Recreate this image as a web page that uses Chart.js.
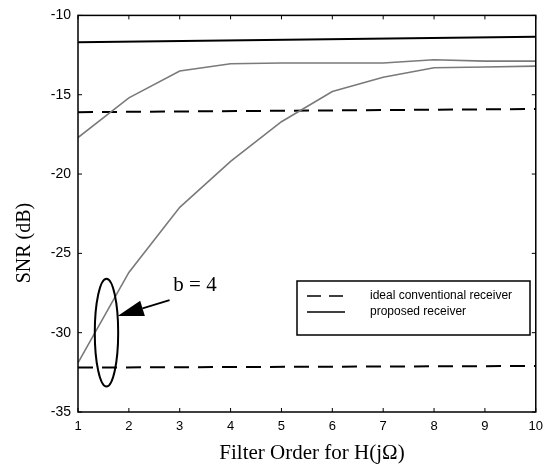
<!DOCTYPE html>
<html>
<head>
<meta charset="utf-8">
<script src="https://cdn.jsdelivr.net/npm/chart.js@4/dist/chart.umd.min.js"></script>
<style>
  html, body { margin: 0; padding: 0; background: #fff; }
  #wrap { width: 550px; height: 467px; }
</style>
</head>
<body>
<div id="wrap"><canvas id="snrChart" width="550" height="467"></canvas></div>
<script>
// filter orders (x axis)
const filterOrders = [1, 2, 3, 4, 5, 6, 7, 8, 9, 10];
const flatEnds = [1, 10];

// solid flat line near the top
const proposedFlat = [-11.7, -11.35];
// gray curves (proposed receiver vs filter order)
const proposedUpper = [-17.7, -15.2, -13.5, -13.05, -13.0, -13.0, -13.0, -12.8, -12.88, -12.88];
const proposedB4 = [-31.9, -26.2, -22.1, -19.2, -16.7, -14.8, -13.9, -13.3, -13.25, -13.2];
// dashed lines: ideal conventional receiver
const conventionalUpper = [-16.1, -15.9];
const conventionalB4 = [-32.2, -32.1];

const yTicks = [-35, -30, -25, -20, -15, -10];
const legendLabels = ['ideal conventional receiver', 'proposed receiver'];
const annotationText = 'b = 4';

function pairs(xs, ys) {
    return xs.map((x, i) => ({ x: x, y: ys[i] }));
}

// Box, inward ticks, titles, legend and the b = 4 annotation
const matlabFrame = {
    id: 'matlabFrame',
    afterDraw(chart) {
        const ctx = chart.ctx;
        const a = chart.chartArea;
        const xs = chart.scales.x;
        const ys = chart.scales.y;
        ctx.save();

        // frame
        ctx.strokeStyle = '#000';
        ctx.lineWidth = 1.5;
        ctx.strokeRect(a.left, a.top, a.right - a.left, a.bottom - a.top);

        // inward ticks
        ctx.lineWidth = 1;
        filterOrders.forEach(v => {
            const px = xs.getPixelForValue(v);
            ctx.beginPath();
            ctx.moveTo(px, a.bottom); ctx.lineTo(px, a.bottom - 4);
            ctx.moveTo(px, a.top); ctx.lineTo(px, a.top + 4);
            ctx.stroke();
        });
        yTicks.forEach(v => {
            const py = ys.getPixelForValue(v);
            ctx.beginPath();
            ctx.moveTo(a.left, py); ctx.lineTo(a.left + 4, py);
            ctx.moveTo(a.right, py); ctx.lineTo(a.right - 4, py);
            ctx.stroke();
        });

        // axis titles
        ctx.fillStyle = '#000';
        ctx.font = '21px "Liberation Serif", serif';
        ctx.textAlign = 'center';
        ctx.textBaseline = 'middle';
        ctx.fillText('Filter Order for H(j\u03A9)', 312, 453);
        ctx.font = '20px "Liberation Serif", serif';
        ctx.save();
        ctx.translate(25, 243);
        ctx.rotate(-Math.PI / 2);
        ctx.fillText('SNR (dB)', 0, 0);
        ctx.restore();

        // legend box
        ctx.lineWidth = 1.5;
        ctx.strokeRect(297, 281, 233, 54);
        ctx.beginPath();
        ctx.setLineDash([14, 8]);
        ctx.moveTo(307, 296); ctx.lineTo(345, 296);
        ctx.stroke();
        ctx.setLineDash([]);
        ctx.beginPath();
        ctx.moveTo(307, 312); ctx.lineTo(345, 312);
        ctx.stroke();
        ctx.font = '12px "Liberation Sans", sans-serif';
        ctx.textAlign = 'left';
        ctx.fillText(legendLabels[0], 370, 296);
        ctx.fillText(legendLabels[1], 370, 312);

        // ellipse around b = 4 curves
        const cx = xs.getPixelForValue(1.56);
        const cy = ys.getPixelForValue(-30.0);
        const rx = xs.getPixelForValue(1.56 + 0.23) - cx;
        const ry = ys.getPixelForValue(-30.0 + 3.4) - cy;
        ctx.lineWidth = 2;
        ctx.beginPath();
        ctx.ellipse(cx, cy, Math.abs(rx), Math.abs(ry), 0, 0, Math.PI * 2);
        ctx.stroke();

        // arrow
        const tailX = xs.getPixelForValue(2.8), tailY = ys.getPixelForValue(-27.95);
        const tipX = xs.getPixelForValue(1.78), tipY = ys.getPixelForValue(-28.95);
        const ang = Math.atan2(tipY - tailY, tipX - tailX);
        const headLen = 26, headW = 8;
        const bx = tipX - headLen * Math.cos(ang), by = tipY - headLen * Math.sin(ang);
        ctx.lineWidth = 1.8;
        ctx.beginPath();
        ctx.moveTo(tailX, tailY); ctx.lineTo(bx, by);
        ctx.stroke();
        ctx.beginPath();
        ctx.moveTo(tipX, tipY);
        ctx.lineTo(bx + headW * Math.sin(ang), by - headW * Math.cos(ang));
        ctx.lineTo(bx - headW * Math.sin(ang), by + headW * Math.cos(ang));
        ctx.closePath();
        ctx.fill();

        ctx.font = '21px "Liberation Serif", serif';
        ctx.textAlign = 'center';
        ctx.fillText(annotationText, xs.getPixelForValue(3.3), ys.getPixelForValue(-27.0));

        ctx.restore();
    }
};

const ctx = document.getElementById('snrChart').getContext('2d');
new Chart(ctx, {
    type: 'line',
    data: {
        datasets: [
            {
                label: 'proposed flat',
                data: pairs(flatEnds, proposedFlat),
                borderColor: '#000',
                borderWidth: 2
            },
            {
                label: 'proposed upper',
                data: pairs(filterOrders, proposedUpper),
                borderColor: '#7a7a7a',
                borderWidth: 1.6
            },
            {
                label: 'proposed b=4',
                data: pairs(filterOrders, proposedB4),
                borderColor: '#7a7a7a',
                borderWidth: 1.6
            },
            {
                label: 'conventional upper',
                data: pairs(flatEnds, conventionalUpper),
                borderColor: '#000',
                borderWidth: 2,
                borderDash: [15, 9]
            },
            {
                label: 'conventional b=4',
                data: pairs(flatEnds, conventionalB4),
                borderColor: '#000',
                borderWidth: 2,
                borderDash: [15, 9]
            }
        ]
    },
    options: {
        responsive: false,
        animation: false,
        layout: { padding: { top: 14, right: 13, left: 0, bottom: 0 } },
        elements: { point: { radius: 0 }, line: { tension: 0 } },
        plugins: { legend: { display: false }, tooltip: { enabled: false } },
        scales: {
            x: {
                type: 'linear',
                min: 1,
                max: 10,
                grid: { display: false, drawTicks: false },
                border: { display: false },
                ticks: {
                    stepSize: 1,
                    padding: 7,
                    color: '#000',
                    font: { family: 'Liberation Sans', size: 13 },
                    maxRotation: 0
                },
                afterFit: scale => { scale.height = 55; }
            },
            y: {
                min: -35,
                max: -10,
                grid: { display: false, drawTicks: false },
                border: { display: false },
                ticks: {
                    stepSize: 5,
                    padding: 7,
                    color: '#000',
                    font: { family: 'Liberation Sans', size: 14 }
                },
                afterFit: scale => { scale.width = 78; }
            }
        }
    },
    plugins: [matlabFrame]
});
</script>
</body>
</html>
